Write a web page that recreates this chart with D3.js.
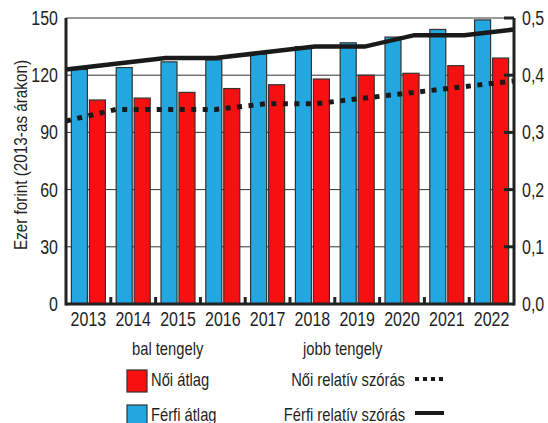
<!DOCTYPE html>
<html>
<head>
<meta charset="utf-8">
<script src="https://cdn.jsdelivr.net/npm/d3@7"></script>
<style>
  body { margin: 0; background: #fff; }
  text { font-family: "Liberation Sans", Arial, sans-serif; fill: #1f1f1f; }
</style>
</head>
<body>
<script>
// data
var years = ["2013","2014","2015","2016","2017","2018","2019","2020","2021","2022"];
var ferfiAtlag = [123, 124, 127, 128, 131, 135, 137, 140, 144, 149];
var noiAtlag   = [107, 108, 111, 113, 115, 118, 120, 121, 125, 129];
var ferfiSzoras = [0.41, 0.42, 0.43, 0.43, 0.44, 0.45, 0.45, 0.47, 0.47, 0.48];
var noiSzoras   = [0.32, 0.34, 0.34, 0.34, 0.35, 0.35, 0.36, 0.37, 0.38, 0.39];
var leftTicks = [0, 30, 60, 90, 120, 150];
var rightTicks = [0, 0.1, 0.2, 0.3, 0.4, 0.5];

var W = 548, H = 423;
var margin = {top: 18, right: 34, bottom: 119, left: 66};
var x0 = margin.left, x1 = W - margin.right, y0 = H - margin.bottom, y1 = margin.top;

var blue = "#23a7e0", red = "#f80f0f";
var squeeze = 0.82; // no narrow font installed, so squash Liberation Sans

const svg = d3.select("body").append("svg")
    .attr("width", W)
    .attr("height", H);

// place a text at (x,y) horizontally squeezed
function at(x, y) {
    return `translate(${x},${y}) scale(${squeeze},1)`;
}

var x = d3.scaleBand().domain(years).range([x0, x1]);
var sub = d3.scaleBand().domain(["f","n"]).range([0, x.bandwidth()]).paddingInner(0.11).paddingOuter(0.3);
var xp = d3.scalePoint().domain(years).range([x0, x1]);
var yL = d3.scaleLinear().domain([0, 150]).range([y0, y1]);
var yR = d3.scaleLinear().domain([0, 0.5]).range([y0, y1]);

// grid
svg.append("g").selectAll("line")
    .data(leftTicks.slice(1))
    .enter().append("line")
    .attr("x1", x0).attr("x2", x1)
    .attr("y1", d => yL(d)).attr("y2", d => yL(d))
    .style("stroke", "#333").style("stroke-width", 1);

// bars
var groups = svg.append("g").selectAll("g")
    .data(years)
    .enter().append("g")
    .attr("transform", d => `translate(${x(d)},0)`);
groups.append("rect")
    .attr("x", sub("f")).attr("width", sub.bandwidth())
    .attr("y", (d, i) => yL(ferfiAtlag[i]))
    .attr("height", (d, i) => y0 - yL(ferfiAtlag[i]))
    .style("fill", blue).style("stroke", "#333").style("stroke-width", 1.2);
groups.append("rect")
    .attr("x", sub("n")).attr("width", sub.bandwidth())
    .attr("y", (d, i) => yL(noiAtlag[i]))
    .attr("height", (d, i) => y0 - yL(noiAtlag[i]))
    .style("fill", red).style("stroke", "#333").style("stroke-width", 1.2);

// lines on right axis
var line = d3.line().x((d, i) => xp(years[i])).y(d => yR(d));
svg.append("path").attr("d", line(noiSzoras))
    .style("fill", "none").style("stroke", "#1a1a1a")
    .style("stroke-width", 5).style("stroke-dasharray", "5,6.5");
svg.append("path").attr("d", line(ferfiSzoras))
    .style("fill", "none").style("stroke", "#1a1a1a").style("stroke-width", 4.5);

// axes frame
svg.append("line").attr("x1", x0).attr("x2", x1).attr("y1", y0).attr("y2", y0)
    .style("stroke", "#222").style("stroke-width", 3);
svg.append("line").attr("x1", x0).attr("x2", x0).attr("y1", y1).attr("y2", y0 + 1.5)
    .style("stroke", "#222").style("stroke-width", 3);
svg.append("line").attr("x1", x1).attr("x2", x1).attr("y1", y1).attr("y2", y0 + 1.5)
    .style("stroke", "#222").style("stroke-width", 3);

// category ticks on bottom
svg.append("g").selectAll("line")
    .data(years.slice(1))
    .enter().append("line")
    .attr("x1", d => x(d)).attr("x2", d => x(d))
    .attr("y1", y0).attr("y2", y0 - 7)
    .style("stroke", "#222").style("stroke-width", 3);

// right axis ticks (inward)
svg.append("g").selectAll("line")
    .data(rightTicks.slice(1))
    .enter().append("line")
    .attr("x1", x1 - 10).attr("x2", x1)
    .attr("y1", d => yR(d)).attr("y2", d => yR(d))
    .style("stroke", "#222").style("stroke-width", 3);

// tick labels
svg.append("g").selectAll("text")
    .data(leftTicks)
    .enter().append("text")
    .attr("transform", d => at(x0 - 8, yL(d) + 7))
    .attr("text-anchor", "end")
    .style("font-size", "19.5px")
    .text(d => d);
svg.append("g").selectAll("text")
    .data(rightTicks)
    .enter().append("text")
    .attr("transform", d => at(x1 + 8, yR(d) + 7))
    .style("font-size", "19.5px")
    .text(d => d3.format(".1f")(d).replace(".", ","));
svg.append("g").selectAll("text")
    .data(years)
    .enter().append("text")
    .attr("transform", d => at(x(d) + x.bandwidth() / 2, y0 + 22))
    .attr("text-anchor", "middle")
    .style("font-size", "19.5px")
    .text(d => d);

svg.append("text")
    .attr("transform", "translate(27,155) rotate(-90)")
    .attr("text-anchor", "middle")
    .attr("textLength", 190)
    .attr("lengthAdjust", "spacingAndGlyphs")
    .style("font-size", "18px")
    .text("Ezer forint (2013-as árakon)");

// legend
var lg = svg.append("g").style("font-size", "18px");
lg.append("text").attr("transform", at(132, 355)).text("bal tengely");
lg.append("text").attr("transform", at(303, 355)).text("jobb tengely");
lg.append("rect").attr("x", 127).attr("y", 370).attr("width", 20).attr("height", 22)
    .style("fill", red).style("stroke", "#333").style("stroke-width", 1.2);
lg.append("rect").attr("x", 127).attr("y", 405).attr("width", 20).attr("height", 22)
    .style("fill", blue).style("stroke", "#333").style("stroke-width", 1.2);
lg.append("text").attr("transform", at(151, 386)).text("Női átlag");
lg.append("text").attr("transform", at(151, 421)).text("Férfi átlag");
lg.append("text").attr("transform", at(405, 386)).attr("text-anchor", "end").text("Női relatív szórás");
lg.append("text").attr("transform", at(405, 421)).attr("text-anchor", "end").text("Férfi relatív szórás");
lg.append("line").attr("x1", 415).attr("x2", 444).attr("y1", 379).attr("y2", 379)
    .style("stroke", "#1a1a1a").style("stroke-width", 4).style("stroke-dasharray", "4,4");
lg.append("line").attr("x1", 415).attr("x2", 444).attr("y1", 413).attr("y2", 413)
    .style("stroke", "#1a1a1a").style("stroke-width", 4);
</script>
</body>
</html>
